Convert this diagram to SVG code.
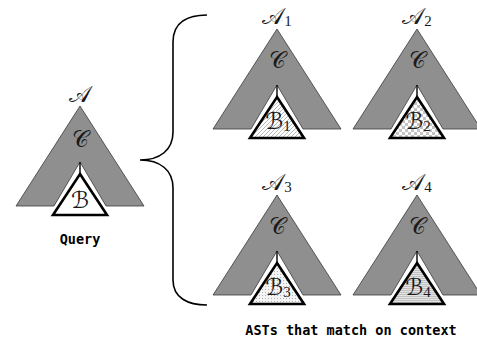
<svg xmlns="http://www.w3.org/2000/svg" width="477" height="346" viewBox="0 0 477 346">
<style>
.tree{fill:#8f8f8f;stroke:#3a3a3a;stroke-width:0.8}
.sub{stroke:#000;stroke-width:2.6;stroke-linejoin:miter}
.stem{stroke:#000;stroke-width:1.4}
.cal{font-family:"DejaVu Serif","DejaVu Sans",serif;font-size:23px;fill:#1a1a1a;text-anchor:middle}
.cal tspan{font-size:15px;font-family:"Liberation Serif",serif}
.cap{font-family:"DejaVu Sans Mono","Liberation Mono",monospace;font-weight:bold;font-size:13.5px;fill:#000;text-anchor:middle}
.brace{fill:none;stroke:#000;stroke-width:1.6}
</style>
<defs>
<g id="t">
<polygon class="tree" points="0,0 64,100 26,100 0,56 -26,100 -64,100"/>
<line class="stem" x1="0" y1="56" x2="0" y2="69"/>
</g>
<pattern id="hatch" patternUnits="userSpaceOnUse" width="4" height="4">
<rect width="4" height="4" fill="#fff"/>
<path d="M-1,1 L1,-1 M0,4 L4,0 M3,5 L5,3" stroke="#9a9a9a" stroke-width="0.7"/>
</pattern>
<pattern id="check" patternUnits="userSpaceOnUse" width="6" height="6">
<rect width="6" height="6" fill="#fff"/>
<rect width="3" height="3" fill="#c4c4c4"/>
<rect x="3" y="3" width="3" height="3" fill="#c4c4c4"/>
</pattern>
<pattern id="dots" patternUnits="userSpaceOnUse" width="3" height="3">
<rect width="3" height="3" fill="#f4f4f4"/>
<rect x="1" y="1" width="1" height="1" fill="#b0b0b0"/>
</pattern>
<pattern id="lines" patternUnits="userSpaceOnUse" width="4" height="2">
<rect width="4" height="2" fill="#e4e4e4"/>
<rect width="4" height="0.8" fill="#b8b8b8"/>
</pattern>
</defs>
<g id="query">
<use href="#t" x="80" y="106"/>
<polygon class="sub" fill="#fff" points="80,174 107,215 53,215"/>
<text class="cal" x="80" y="102">𝒜</text>
<text class="cal" x="80" y="147">𝒞</text>
<text class="cal" x="80" y="208">ℬ</text>
<text class="cap" x="80" y="244">Query</text>
</g>
<g id="ast1">
<use href="#t" x="277" y="29"/>
<polygon class="sub" fill="url(#hatch)" points="277,97 304,138 250,138"/>
<text class="cal" x="277" y="24">𝒜<tspan dy="2">1</tspan></text>
<text class="cal" x="277" y="68">𝒞</text>
<text class="cal" x="278" y="129">ℬ<tspan dy="2">1</tspan></text>
</g>
<g id="ast2">
<use href="#t" x="417" y="29"/>
<polygon class="sub" fill="url(#check)" points="417,97 444,138 390,138"/>
<text class="cal" x="417" y="24">𝒜<tspan dy="2">2</tspan></text>
<text class="cal" x="417" y="68">𝒞</text>
<text class="cal" x="418" y="129">ℬ<tspan dy="2">2</tspan></text>
</g>
<g id="ast3">
<use href="#t" x="277" y="195"/>
<polygon class="sub" fill="url(#dots)" points="277,263 304,304 250,304"/>
<text class="cal" x="277" y="190">𝒜<tspan dy="2">3</tspan></text>
<text class="cal" x="277" y="234">𝒞</text>
<text class="cal" x="278" y="295">ℬ<tspan dy="2">3</tspan></text>
</g>
<g id="ast4">
<use href="#t" x="417" y="195"/>
<polygon class="sub" fill="url(#lines)" points="417,263 444,304 390,304"/>
<text class="cal" x="417" y="190">𝒜<tspan dy="2">4</tspan></text>
<text class="cal" x="417" y="234">𝒞</text>
<text class="cal" x="418" y="295">ℬ<tspan dy="2">4</tspan></text>
</g>
<g id="connectors">
<path class="brace" d="M207,15 C188,15 173,22 173,42 L173,132 C173,150 160,160 140,160 C160,160 173,170 173,188 L173,280 C173,298 188,305 207,305"/>
</g>
<text class="cap" x="351" y="335">ASTs that match on context</text>
</svg>
